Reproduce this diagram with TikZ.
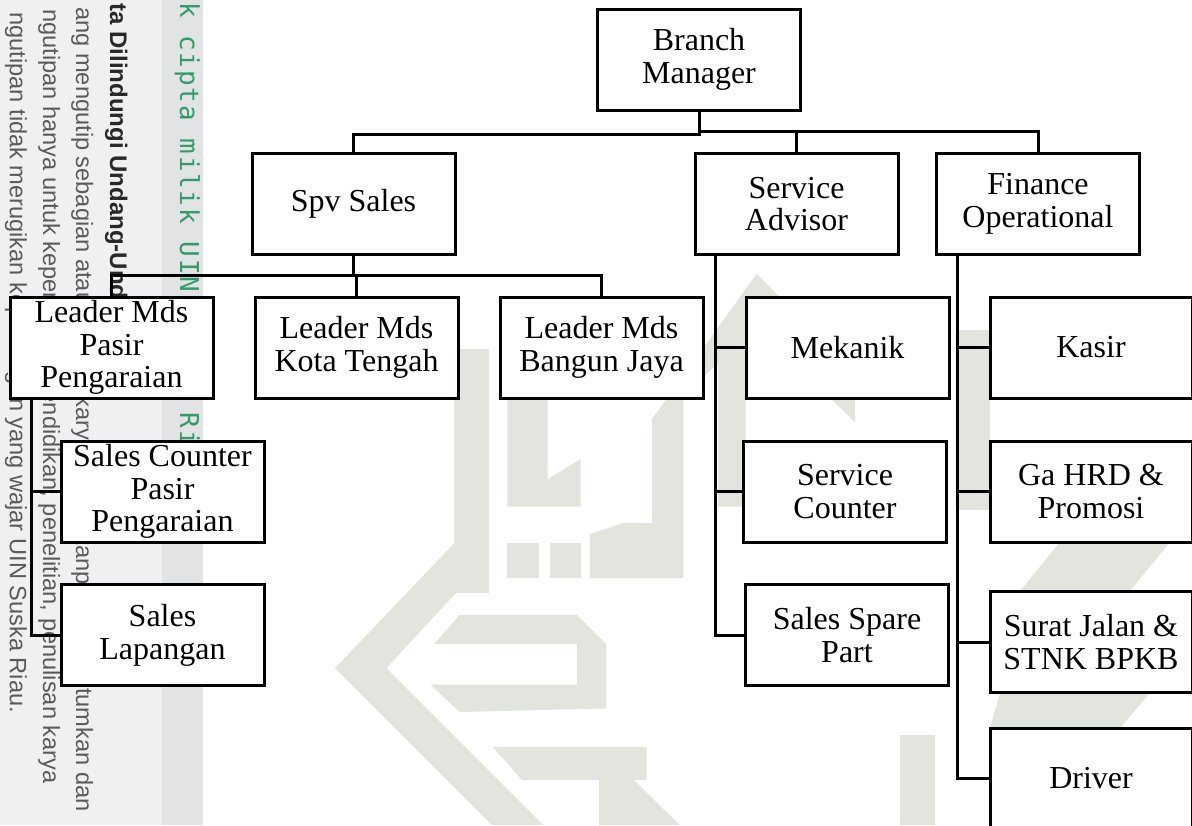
\documentclass[tikz,border=0pt]{standalone}
\usepackage{fontspec}
\setmainfont{Liberation Serif}
\newfontfamily\wmsans{Liberation Sans}
\newfontfamily\wmmono[LetterSpace=7]{DejaVu Sans Mono}
\definecolor{stripA}{RGB}{240,240,242}
\definecolor{stripB}{RGB}{226,227,229}
\definecolor{wmgray}{RGB}{90,90,92}
\definecolor{wmdark}{RGB}{40,40,40}
\definecolor{wmgreen}{RGB}{50,155,105}
\definecolor{logogray}{RGB}{226,228,222}
\begin{document}
\begin{tikzpicture}[x=0.5pt,y=-0.5pt,
  orgbox/.style={draw, line width=1.5pt, fill=white, align=center, inner sep=0pt,
    font=\fontsize{16}{16.4}\selectfont, minimum height=50.5pt},
  wbox/.style={minimum width=101.5pt},
  rbox/.style={minimum width=101pt},
  link/.style={line width=1.5pt},
  logo/.style={fill=logogray},
  wm/.style={rotate=-90, anchor=base west, inner sep=0pt, text=wmgray,
    font=\wmsans\fontsize{11.8}{14}\selectfont}
]
\useasboundingbox (0,0) rectangle (1192,825);
\clip (0,0) rectangle (1192,825);
% left watermark strip
\fill[stripA] (0,0) rectangle (162,825);
\fill[stripB] (162,0) rectangle (203,825);
\node[wm] (wm5) at (10,12) {ngutipan tidak merugikan kepentingan yang wajar UIN Suska Riau.};
\node[wm] (wm4) at (43,9) {ngutipan hanya untuk kepentingan pendidikan, penelitian, penulisan karya};
\node[wm] (wm3) at (76,7) {ang mengutip sebagian atau seluruh karya tulis ini tanpa mencantumkan dan};
\node[wm, text=wmdark, font=\wmsans\bfseries\fontsize{12}{14}\selectfont] (wm2) at (110,3) {ta Dilindungi Undang-Undang};
\node[wm, text=wmgreen, font=\wmmono\fontsize{13}{15}\selectfont] (wm1) at (180,2) {k cipta milik UIN Suska Riau};

% faint background logo (approximate)
\begin{scope}[shift={(280,250)}, scale=0.3667]
  \fill[logo] (475,270) -- (570,270) -- (570,935) -- (480,935) -- (290,1140) -- (718,1568)
              -- (578,1568) -- (150,1140) -- (475,800) -- cycle;
  \fill[logo] (620,400) -- (730,400) -- (730,625) -- (820,570) -- (820,700) -- (620,700) -- cycle;
  \fill[logo] (620,800) rectangle (705,895);
  \fill[logo] (735,800) rectangle (820,895);
  \fill[logo] (845,775) -- (935,745) -- (1015,745) -- (1015,460) -- (1300,65) -- (1568,335)
              -- (1568,470) -- (1300,205) -- (1100,400) -- (1100,895) -- (845,895) -- cycle;
  \fill[logo] (1195,250) -- (1270,180) -- (1270,700) -- (1195,700) -- cycle;
  \fill[logo] (420,1075) -- (490,995) -- (810,995) -- (890,1075) -- (890,1250) -- (490,1260)
              -- (410,1185) -- (810,1185) -- (810,1075) -- cycle;
  \fill[logo] (580,1355) -- (1000,1355) -- (1000,1445) -- (660,1445) -- cycle;
  \fill[logo] (870,1360) -- (960,1360) -- (960,1440) -- (1090,1568) -- (870,1568) -- cycle;
\end{scope}
\fill[logo] (958,330) rectangle (990,510);
\fill[logo] (1060,542) -- (1170,542) -- (1130,591) -- (1020,591) -- cycle;
\fill[logo] (1000,693) -- (1150,693) -- (1120,728) -- (990,728) -- cycle;
\fill[logo] (900,735) rectangle (935,825);

% boxes
\node[orgbox, wbox] (bm)  at (699,59.5)  {Branch\\Manager};
\node[orgbox, wbox] (spv) at (353.5,204) {Spv Sales};
\node[orgbox, wbox] (sa)  at (796.5,204) {Service\\Advisor};
\node[orgbox, wbox] (fo)  at (1038,204)  {Finance\\Operational};

\node[orgbox, wbox] (lp)  at (111.5,347.5) {Leader Mds\\Pasir\\Pengaraian};
\node[orgbox, wbox] (lk)  at (356.5,347.5) {Leader Mds\\Kota Tengah};
\node[orgbox, wbox] (lb)  at (601.5,347.5) {Leader Mds\\Bangun Jaya};
\node[orgbox, wbox] (mek) at (847.5,347.5) {Mekanik};
\node[orgbox, rbox] (kas) at (1091,347.5)  {Kasir};

\node[orgbox, wbox] (scp) at (162.5,491.5) {Sales Counter\\Pasir\\Pengaraian};
\node[orgbox, wbox] (sc)  at (845,491.5)   {Service\\Counter};
\node[orgbox, rbox] (ga)  at (1091,491.5)  {Ga HRD \&\\Promosi};

\node[orgbox, wbox] (sl)  at (162.5,635)   {Sales\\Lapangan};
\node[orgbox, wbox] (ssp) at (847,635)     {Sales Spare\\Part};
\node[orgbox, rbox] (sj)  at (1091,642)    {Surat Jalan \&\\STNK BPKB};
\node[orgbox, rbox] (drv) at (1091,778.5)  {Driver};

% spine coordinates
\coordinate (bmL) at (699,134);
\coordinate (bmR) at (699,131);
\coordinate (spvJ) at (353.5,275);
\coordinate (lpS) at (31,398);
\coordinate (saS) at (715,254);
\coordinate (foS) at (957,254);

% connectors
\draw[link] (bm.south) -- (bmL) -| (spv.north);
\draw[link] (bmR) -| (sa.north);
\draw[link] (bmR) -| (fo.north);
\draw[link] (spv.south) -- (spvJ) -| (lp.north);
\draw[link] (spvJ) -| (lk.north);
\draw[link] (spvJ) -| (lb.north);
\draw[link] (lpS) |- (scp.west);
\draw[link] (lpS) |- (sl.west);
\draw[link] (saS) |- (mek.west);
\draw[link] (saS) |- (sc.west);
\draw[link] (saS) |- (ssp.west);
\draw[link] (foS) |- (kas.west);
\draw[link] (foS) |- (ga.west);
\draw[link] (foS) |- (sj.west);
\draw[link] (foS) |- (drv.west);
\end{tikzpicture}
\end{document}
